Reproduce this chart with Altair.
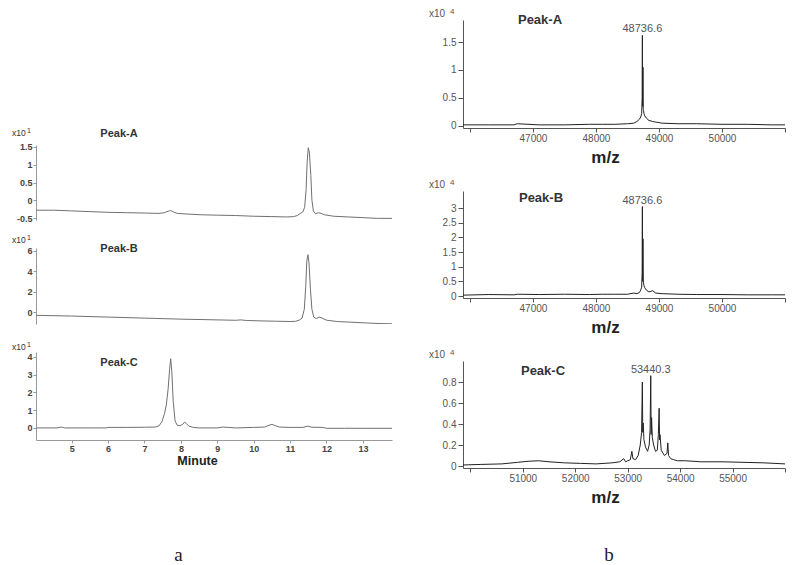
import altair as alt
import pandas as pd

SANS = "Liberation Sans"
SERIF = "Liberation Serif"

# ---------------- (a) HPLC chromatograms: time (min) / signal (x10^1) ----------------
lc_time_A = [4.03, 4.5, 5.0, 5.5, 6.0, 6.5, 7.0, 7.4, 7.55, 7.65, 7.72, 7.8, 7.9, 8.2, 8.6,
             9.0, 9.5, 10.0, 10.5, 10.9, 11.1, 11.2, 11.28, 11.35, 11.4, 11.44, 11.47, 11.5,
             11.53, 11.57, 11.6, 11.64, 11.7, 11.78, 11.85, 11.95, 12.2, 12.6, 13.0, 13.4, 13.8]
lc_sig_A = [-0.28, -0.28, -0.30, -0.32, -0.34, -0.35, -0.36, -0.37, -0.35, -0.31, -0.29, -0.33,
            -0.37, -0.39, -0.41, -0.42, -0.43, -0.45, -0.46, -0.47, -0.46, -0.43, -0.37, -0.33,
            -0.2, 0.3, 1.1, 1.48, 1.35, 0.7, 0.0, -0.3, -0.38, -0.35, -0.37, -0.41, -0.45,
            -0.47, -0.49, -0.51, -0.51]

lc_time_B = [4.03, 5.0, 6.0, 7.0, 8.0, 9.0, 9.5, 9.65, 9.8, 10.2, 10.6, 11.0, 11.15, 11.25,
             11.33, 11.39, 11.43, 11.46, 11.49, 11.52, 11.56, 11.6, 11.65, 11.72, 11.8, 11.88,
             12.0, 12.3, 12.7, 13.1, 13.5, 13.8]
lc_sig_B = [-0.28, -0.35, -0.45, -0.55, -0.65, -0.72, -0.76, -0.72, -0.78, -0.82, -0.85, -0.88,
            -0.86, -0.75, -0.55, 0.3, 2.5, 5.0, 5.6, 4.8, 2.2, 0.3, -0.45, -0.6, -0.45, -0.55,
            -0.75, -0.88, -0.95, -1.02, -1.08, -1.1]

lc_time_C = [4.03, 4.6, 4.72, 4.8, 5.5, 5.95, 6.0, 6.5, 7.0, 7.3, 7.4, 7.48, 7.55, 7.6, 7.65,
             7.69, 7.72, 7.75, 7.79, 7.84, 7.9, 7.98, 8.05, 8.1, 8.15, 8.22, 8.35, 8.5, 9.0,
             9.15, 9.3, 9.5, 10.0, 10.3, 10.42, 10.5, 10.58, 10.7, 11.0, 11.35, 11.48, 11.6,
             11.9, 12.0, 12.5, 13.0, 13.8]
lc_sig_C = [0.0, 0.0, 0.05, 0.0, 0.0, 0.0, 0.03, 0.03, 0.04, 0.05, 0.12, 0.35, 0.8, 1.3, 2.2,
            3.3, 3.9, 3.2, 1.5, 0.4, 0.15, 0.13, 0.2, 0.33, 0.25, 0.1, 0.03, 0.0, 0.0, 0.05,
            0.03, 0.0, 0.03, 0.05, 0.15, 0.2, 0.14, 0.05, 0.03, 0.03, 0.1, 0.04, 0.03, -0.02,
            -0.02, -0.02, -0.02]

lc_min_ticks = [5, 6, 7, 8, 9, 10, 11, 12, 13]
lc_y_ticks_A = [-0.5, 0, 0.5, 1, 1.5]
lc_y_ticks_B = [0, 2, 4, 6]
lc_y_ticks_C = [0, 1, 2, 3, 4]

# ---------------- (b) deconvoluted mass spectra: m/z / intensity (x10^4) ----------------
ms_mz_A = [45890, 46300, 46700, 46750, 47100, 47500, 47900, 48100, 48300, 48500, 48600, 48650,
           48690, 48710, 48725, 48733, 48736.6, 48739, 48742, 48746, 48750, 48755, 48762,
           48775, 48800, 48840, 48900, 48950, 49050, 49300, 49600, 50000, 50400, 50800, 51000]
ms_int_A = [0.02, 0.02, 0.02, 0.04, 0.02, 0.02, 0.03, 0.03, 0.03, 0.04, 0.05, 0.08, 0.12, 0.16,
            0.22, 0.5, 1.62, 0.5, 0.35, 1.05, 0.3, 0.28, 0.22, 0.18, 0.14, 0.1, 0.08, 0.07,
            0.05, 0.04, 0.04, 0.03, 0.03, 0.02, 0.02]

ms_mz_B = ms_mz_A
ms_int_B = [0.03, 0.05, 0.04, 0.06, 0.05, 0.06, 0.05, 0.06, 0.06, 0.06, 0.1, 0.08, 0.12, 0.2,
            0.3, 0.8, 3.05, 0.9, 0.5, 1.95, 0.55, 0.45, 0.35, 0.28, 0.2, 0.14, 0.18, 0.1, 0.08,
            0.06, 0.05, 0.05, 0.04, 0.04, 0.04]

ms_mz_C = [49860, 50200, 50600, 50900, 51100, 51300, 51500, 51800, 52100, 52400, 52700, 52850,
           52925, 52960, 53000, 53050, 53080, 53100, 53150, 53200, 53240, 53265, 53280, 53288,
           53296, 53310, 53340, 53380, 53410, 53428, 53440, 53448, 53456, 53470, 53495, 53530,
           53565, 53585, 53600, 53608, 53616, 53640, 53700, 53750, 53765, 53780, 53820, 53880,
           53950, 54100, 54400, 54800, 55200, 55600, 56000]
ms_int_C = [0.01, 0.015, 0.02, 0.035, 0.045, 0.05, 0.04, 0.03, 0.025, 0.02, 0.03, 0.04, 0.07,
            0.04, 0.05, 0.06, 0.14, 0.07, 0.06, 0.1, 0.2, 0.32, 0.8, 0.32, 0.41, 0.25, 0.18,
            0.14, 0.2, 0.35, 0.86, 0.3, 0.46, 0.27, 0.2, 0.14, 0.15, 0.3, 0.55, 0.25, 0.3, 0.15,
            0.1, 0.12, 0.22, 0.1, 0.07, 0.06, 0.05, 0.05, 0.04, 0.04, 0.035, 0.03, 0.02]

ms_peak_mz = [48736.6, 48736.6, 53440.3]
ms_peak_int = [1.62, 3.05, 0.86]
ms_peak_lab = ["48736.6", "48736.6", "53440.3"]
ms_x_ticks_AB = [46000, 47000, 48000, 49000, 50000, 51000]
ms_x_ticks_C = [50000, 51000, 52000, 53000, 54000, 55000, 56000]
ms_y_ticks_A = [0, 0.5, 1, 1.5]
ms_y_ticks_B = [0, 0.5, 1, 1.5, 2, 2.5, 3]
ms_y_ticks_C = [0, 0.2, 0.4, 0.6, 0.8]

panel_names = ["Peak-A", "Peak-B", "Peak-C"]

LW, RW = 356, 322


def txt(s, x, y, size, weight="normal", color="#222", font=SANS, align="left",
        baseline="middle"):
    return alt.Chart(pd.DataFrame({"t": [s]})).mark_text(
        align=align, baseline=baseline, fontSize=size, fontWeight=weight,
        color=color, font=font
    ).encode(text="t:N", x=alt.value(x), y=alt.value(y))


def lc_panel(t, v, ydom, yticks, height, name, name_y, x10_y, with_x, extra=()):
    df = pd.DataFrame({"t": t, "v": v})
    if with_x:
        xaxis = alt.Axis(values=lc_min_ticks, labelExpr="datum.value + ''", title="Minute",
                         tickSize=3, labelPadding=1, labelFontSize=9, labelFontWeight="bold",
                         labelColor="#444", labelFont=SANS, domainColor="#999",
                         tickColor="#999", titleFont=SANS, titleFontSize=12.5,
                         titleFontWeight="bold", titleColor="#222", titleX=161, titleY=20,
                         titleBaseline="middle", titleAlign="center", labelOverlap=False)
        x = alt.X("t:Q", scale=alt.Scale(domain=[4.02, 13.8], nice=False, zero=False), axis=xaxis)
    else:
        x = alt.X("t:Q", scale=alt.Scale(domain=[4.02, 13.8], nice=False, zero=False), axis=None)
    yaxis = alt.Axis(values=yticks, labelExpr="datum.value + ''", title=None, tickSize=3,
                     labelPadding=1, labelFontSize=9, labelFontWeight="bold", labelColor="#444",
                     labelFont=SANS, domainColor="#999", tickColor="#999", labelOverlap=False)
    line = alt.Chart(df).mark_line(color="#707070", strokeWidth=1, clip=True).encode(
        x=x, y=alt.Y("v:Q", scale=alt.Scale(domain=ydom, nice=False, zero=False), axis=yaxis)
    )
    layers = [line,
              txt(name, 83, name_y, 11, "bold", "#333", align="center"),
              txt("x10", -24, x10_y, 8.5, "normal", "#333"),
              txt("1", -9, x10_y - 2, 7, "normal", "#333")]
    layers += list(extra)
    return alt.layer(*layers).properties(width=LW, height=height)


def ms_panel(mz, inten, xdom, xticks, ydom, yticks, height, name, name_x, name_y,
             pk, extra=()):
    df = pd.DataFrame({"mz": mz, "int": inten})
    first, last = xticks[0], xticks[-1]
    xaxis = alt.Axis(values=xticks,
                     labelExpr=f"datum.value == {first} || datum.value == {last} ? '' : datum.value + ''",
                     title="m/z", tickSize=4, labelPadding=1, labelFontSize=10,
                     labelColor="#555", labelFont=SANS, domainColor="#555", tickColor="#555",
                     titleFont=SANS, titleFontSize=17, titleFontWeight="bold",
                     titleColor="#222", titleX=142, titleY=29, titleBaseline="middle",
                     titleAlign="center", labelOverlap=False)
    yaxis = alt.Axis(values=yticks, labelExpr="datum.value + ''", title=None, tickSize=5,
                     labelPadding=2, labelFontSize=10, labelColor="#555", labelFont=SANS,
                     domainColor="#555", tickColor="#555", labelOverlap=False)
    enc_x = alt.X("mz:Q", scale=alt.Scale(domain=xdom, nice=False, zero=False), axis=xaxis)
    enc_y = alt.Y("int:Q", scale=alt.Scale(domain=ydom, nice=False, zero=False), axis=yaxis)
    line = alt.Chart(df).mark_line(color="#222", strokeWidth=1, clip=True).encode(x=enc_x, y=enc_y)
    pdf = pd.DataFrame({"mz": [ms_peak_mz[pk]], "int": [ms_peak_int[pk]],
                        "lab": [ms_peak_lab[pk]]})
    plab = alt.Chart(pdf).mark_text(baseline="bottom", dy=-1, fontSize=11, color="#555",
                                    font=SANS).encode(x=enc_x, y=enc_y, text="lab:N")
    layers = [line, plab,
              txt(name, name_x, name_y, 13, "bold", "#333", align="center"),
              txt("x10", -34, -6, 10, "normal", "#555"),
              txt("4", -13, -8, 8, "normal", "#555")]
    layers += list(extra)
    return alt.layer(*layers).properties(width=RW, height=height)


spacer = alt.Chart(pd.DataFrame({"s": [0]})).mark_point(opacity=0, size=1).encode(
    x=alt.value(50), y=alt.value(50)).properties(width=LW, height=97)

lcA = lc_panel(lc_time_A, lc_sig_A, [-0.556, 1.556], lc_y_ticks_A, 75, panel_names[0], -11, -12, False)
lcB = lc_panel(lc_time_B, lc_sig_B, [-1.12, 6.25], lc_y_ticks_B, 76, panel_names[1], 1, -8, False)
lcC = lc_panel(lc_time_C, lc_sig_C, [-0.68, 4.28], lc_y_ticks_C, 88, panel_names[2], 11, -5, True,
               extra=[txt("a", 142.5, 209, 19, "normal", "#222", SERIF, "center", "alphabetic")])

msA = ms_panel(ms_mz_A, ms_int_A, [45890, 51000], ms_x_ticks_AB, [-0.036, 1.893], ms_y_ticks_A,
               108, panel_names[0], 77, 0, 0)
msB = ms_panel(ms_mz_B, ms_int_B, [45890, 51000], ms_x_ticks_AB, [-0.068, 3.58], ms_y_ticks_B,
               107, panel_names[1], 78, 7, 1)
msC = ms_panel(ms_mz_C, ms_int_C, [49860, 56000], ms_x_ticks_C, [-0.019, 1.0], ms_y_ticks_C,
               107, panel_names[2], 80, 10, 2,
               extra=[txt("b", 146, 200, 19, "normal", "#222", SERIF, "center", "alphabetic")])

left = alt.vconcat(spacer, lcA, lcB, lcC, spacing=28, bounds="flush")
right = alt.vconcat(msA, msB, msC, spacing=63, bounds="flush")

chart = alt.hconcat(left, right, spacing=37).properties(
    padding={"left": 4, "top": 0, "right": 2, "bottom": 0},
    background="white",
).configure_view(strokeWidth=0).configure_axis(grid=False)

chart.save("out.html", embed_options={"renderer": "svg", "actions": False})
